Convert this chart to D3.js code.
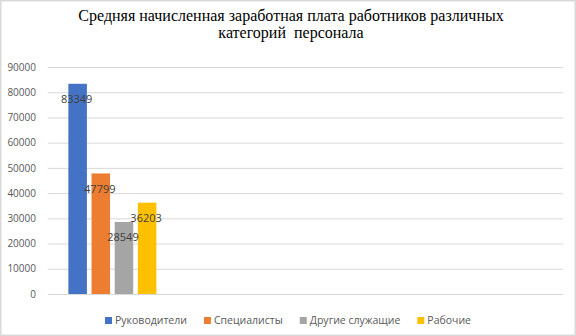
<!DOCTYPE html>
<html>
<head>
<meta charset="utf-8">
<script src="https://cdn.jsdelivr.net/npm/d3@7"></script>
<style>
  body { margin: 0; background: #fff; }
  svg { display: block; }
</style>
</head>
<body>
<div id="chart"></div>
<script>
// chart data
const titleLines = ["Средняя начисленная заработная плата работников различных", "категорий  персонала"];
const categories = ["c1", "c2", "c3", "c4"]; // only the first one has values
const seriesNames = ["Руководители", "Специалисты", "Другие служащие", "Рабочие"];
const seriesValues = [83349, 47799, 28549, 36203];
const seriesColors = ["#4472c4", "#ed7d31", "#a5a5a5", "#ffc000"];
const yTicks = [0, 10000, 20000, 30000, 40000, 50000, 60000, 70000, 80000, 90000];

// constant for svg
const W = 576, H = 336;
const margin = { top: 67, right: 13, bottom: 42, left: 48 };

const svg = d3.select("#chart")
  .append("svg")
  .attr("width", W)
  .attr("height", H);

// outer frame
svg.append("rect")
  .attr("x", 0.75).attr("y", 0.75)
  .attr("width", W - 1.5).attr("height", H - 1.5)
  .attr("fill", "#fff")
  .attr("stroke", "#d9d9d9")
  .attr("stroke-width", 1.5);

// title
svg.append("g")
  .selectAll("text")
  .data(titleLines)
  .enter()
  .append("text")
  .attr("x", 291)
  .attr("y", (d, i) => 21 + i * 17)
  .attr("text-anchor", "middle")
  .style("font-family", "'Liberation Serif', 'Times New Roman', serif")
  .style("font-size", "16px")
  .style("white-space", "pre")
  .attr("fill", "#000")
  .text(d => d);

// scales
const y = d3.scaleLinear()
  .domain([0, 90000])
  .range([H - margin.bottom, margin.top]);

const x0 = d3.scaleBand()
  .domain(categories)
  .range([margin.left, W - margin.right])
  .paddingInner(0.3165)
  .paddingOuter(0.3165 / 2);

const x1 = d3.scaleBand()
  .domain(seriesNames)
  .range([0, x0.bandwidth()])
  .paddingInner(0.2);

// gridlines + y labels
const yAxis = d3.axisLeft(y)
  .tickValues(yTicks)
  .tickSize(-(W - margin.left - margin.right))
  .tickPadding(12)
  .tickFormat(d3.format("d"));

const gy = svg.append("g")
  .attr("transform", "translate(" + margin.left + ",0)")
  .call(yAxis);
gy.select(".domain").remove();
gy.selectAll(".tick line").attr("stroke", "#d9d9d9");
gy.selectAll(".tick text")
  .attr("fill", "#595959")
  .style("font-family", "'Open Sans', sans-serif")
  .style("font-size", "10px");

// bars
const rows = seriesNames.map((name, i) => ({ name: name, value: seriesValues[i], color: seriesColors[i] }));

const barG = svg.append("g")
  .attr("transform", "translate(" + x0(categories[0]) + ",0)");

barG.selectAll("rect")
  .data(rows)
  .enter()
  .append("rect")
  .attr("x", d => x1(d.name))
  .attr("y", d => y(d.value))
  .attr("width", x1.bandwidth())
  .attr("height", d => y(0) - y(d.value))
  .attr("fill", d => d.color);

// value labels
barG.selectAll("text")
  .data(rows)
  .enter()
  .append("text")
  .attr("x", d => x1(d.name) + x1.bandwidth() / 2 - 1)
  .attr("y", d => y(d.value) + 19.5)
  .attr("text-anchor", "middle")
  .attr("fill", "#404040")
  .style("font-family", "'Open Sans', sans-serif")
  .style("font-size", "11px")
  .text(d => d.value);

// legend
const legend = svg.append("g");
const items = legend.selectAll("g")
  .data(rows)
  .enter()
  .append("g");

items.append("rect")
  .attr("width", 7)
  .attr("height", 7)
  .attr("y", -7)
  .attr("fill", d => d.color);

items.append("text")
  .attr("x", 10)
  .attr("y", 0)
  .attr("fill", "#595959")
  .style("font-family", "'Open Sans', sans-serif")
  .style("font-size", "10.5px")
  .text(d => d.name);

// lay out legend items one after another, centred
let offset = 0;
items.each(function() {
  const w = 10 + d3.select(this).select("text").node().getComputedTextLength();
  d3.select(this).attr("transform", "translate(" + offset + ",0)");
  offset += w + 17;
});
const total = offset - 17;
legend.attr("transform", "translate(" + (288 - total / 2) + ",324)");
</script>
</body>
</html>
